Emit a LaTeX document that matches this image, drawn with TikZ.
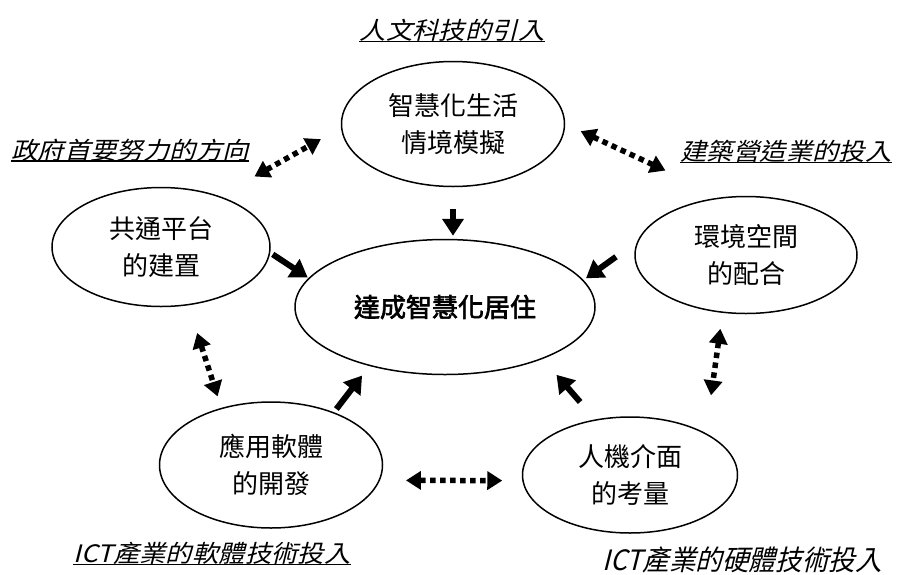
\documentclass[tikz,border=0pt]{standalone}
\usepackage{fontspec}
\newfontfamily\cjk{Noto Sans CJK TC}
\newfontfamily\cjkb[FakeBold=2.5]{Noto Sans CJK TC}
\newfontfamily\cjki[FakeSlant=0.25,FakeStretch=1.1]{Noto Sans CJK TC}
\newfontfamily\cjkj[FakeSlant=0.25,FakeStretch=0.95]{Noto Sans CJK TC}
\usetikzlibrary{shapes.geometric,arrows.meta}
\begin{document}
\begin{tikzpicture}[x=1pt,y=-1pt,
  bub/.style={ellipse,draw,line width=1.5pt,inner sep=0pt,align=center,
    font=\cjk\fontsize{26}{37}\selectfont},
  lab/.style={inner sep=0pt,anchor=base,font=\cjki\fontsize{24}{28}\selectfont},
  uline/.style={line width=1.1pt},
  push/.style={line width=6pt,-{Triangle[width=21pt,length=17pt]}},
  link/.style={line width=5.5pt,dash pattern=on 5.5pt off 4.5pt,
    {Triangle[width=18pt,length=15pt]}-{Triangle[width=18pt,length=15pt]}}]
\useasboundingbox[fill=white] (0,0) rectangle (900,574);

% ellipses
\node[bub,minimum width=223pt,minimum height=125pt] (T) at (453,124) {智慧化生活\\情境模擬};
\node[bub,minimum width=218pt,minimum height=119pt] (L) at (161,247) {共通平台\\的建置};
\node[bub,minimum width=222pt,minimum height=117pt] (R) at (746,255) {環境空間\\的配合};
\node[bub,minimum width=300pt,minimum height=135pt,font=\cjkb\fontsize{26}{30}\selectfont] (C) at (445,307) {達成智慧化居住};
\node[bub,minimum width=223pt,minimum height=126pt] (BL) at (271,465) {應用軟體\\的開發};
\node[bub,minimum width=215pt,minimum height=116pt] (BR) at (630,475) {人機介面\\的考量};

% labels
\node[lab] (lt) at (452,39) {人文科技的引入};
\node[lab] (lg) at (130,159) {政府首要努力的方向};
\node[lab] (lb) at (786,160) {建築營造業的投入};
\node[lab] (ls) at (212,562) {ICT產業的軟體技術投入};
\node[lab,font=\cjkj\fontsize{28}{30}\selectfont] (lh) at (742,570) {ICT產業的硬體技術投入};
\draw[uline] ([yshift=-2.5pt]lt.base west) -- ([yshift=-2.5pt]lt.base east);
\draw[uline] ([yshift=-2pt]lg.base west) -- ([yshift=-2pt]lg.base east);
\draw[uline] ([yshift=-2.5pt]lb.base west) -- ([yshift=-2.5pt]lb.base east);
\draw[uline] ([yshift=-2.5pt]ls.base west) -- ([yshift=-2.5pt]ls.base east);

% solid arrows
\draw[push,shorten <=22pt,shorten >=3pt] (T.south) -- (T.south |- C.north);
\draw[push,shorten <=3pt,shorten >=1pt] (L.-3) -- (C.168);
\draw[push,shorten <=26pt,shorten >=3pt] (R.173) -- (C.11);
\draw[push,shorten <=4pt,shorten >=12pt] (BL.40) -- (C.218);
\draw[push,shorten <=23pt,shorten >=21pt] (BR.122) -- (C.-28);

% dotted double arrows
\draw[link,shorten <=40pt,shorten >=23pt] (L.41) -- (T.182);
\draw[link,shorten <=17pt,shorten >=63pt] (T.0) -- (R.112);
\draw[link,shorten <=29pt,shorten >=12pt] (L.-65) -- (BL.131);
\draw[link,shorten <=26pt,shorten >=20pt] (BL.-8) -- (BR.183);
\draw[link,shorten <=16pt,shorten >=38pt] (R.-112) -- (BR.29);
\end{tikzpicture}
\end{document}
